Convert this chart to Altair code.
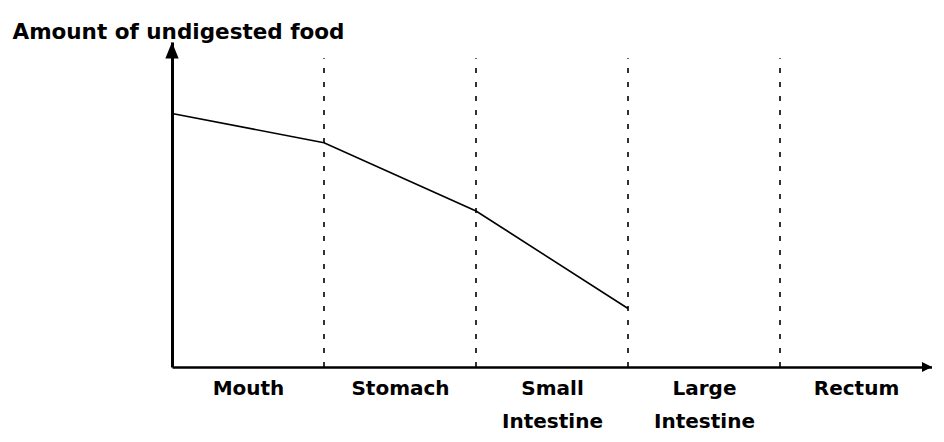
import json
import altair as alt
import pandas as pd

# ---- data ----
categories = ["Mouth", "Stomach", "Small Intestine", "Large Intestine", "Rectum"]
curve_x = [0, 1, 2, 3]            # stage boundaries where the curve is measured
curve_y = [78, 69, 48, 18]        # amount of undigested food (arbitrary units)
divider_x = [1, 2, 3, 4]          # dashed boundaries between organs
label_x = [0.5, 1.5, 2.5, 3.5, 4.5]
y_title = "Amount of undigested food"

X_MAX = 5.0
Y_MAX = 100
DIVIDER_TOP = 95

curve = pd.DataFrame({"x": curve_x, "y": curve_y})
dividers = pd.DataFrame({"x": divider_x, "y": [0] * len(divider_x), "y2": [DIVIDER_TOP] * len(divider_x)})
base_df = pd.DataFrame({"x": [0], "y": [0]})

label_arr = json.dumps([c.split(" ") for c in categories])

xscale = alt.Scale(domain=[0, X_MAX], nice=False, zero=False)
yscale = alt.Scale(domain=[0, Y_MAX], nice=False)

FONT = "DejaVu Sans"

x_axis = alt.Axis(
    values=label_x,
    labelExpr=f"{label_arr}[floor(datum.value)]",
    title=None,
    ticks=False,
    grid=False,
    domainColor="black",
    domainWidth=2.5,
    labelFont=FONT,
    labelFontSize=20,
    labelFontWeight="bold",
    labelColor="black",
    labelLineHeight=33,
    labelBaseline="top",
    labelPadding=11,
    labelOverlap=False,
    labelBound=False,
    labelFlush=False,
)

y_axis = alt.Axis(
    title=y_title,
    titleAngle=0,
    titleAlign="left",
    titleBaseline="middle",
    titleX=-160,
    titleY=-10,
    titleFont=FONT,
    titleFontSize=21.5,
    titleFontWeight="bold",
    titleColor="black",
    labels=False,
    ticks=False,
    grid=False,
    domainColor="black",
    domainWidth=3,
)

axes_layer = alt.Chart(base_df).mark_point(opacity=0).encode(
    x=alt.X("x:Q", scale=xscale, axis=x_axis),
    y=alt.Y("y:Q", scale=yscale, axis=y_axis),
)

div_layer = alt.Chart(dividers).mark_rule(
    color="black", strokeWidth=1.6, strokeDash=[5, 9]
).encode(
    x=alt.X("x:Q", scale=xscale),
    y=alt.Y("y:Q", scale=yscale),
    y2="y2:Q",
)

line_layer = alt.Chart(curve).mark_line(color="black", strokeWidth=1.6).encode(
    x=alt.X("x:Q", scale=xscale),
    y=alt.Y("y:Q", scale=yscale),
)

up_arrow = alt.Chart(pd.DataFrame({"x": [0], "y": [Y_MAX]})).mark_point(
    shape="M0,0 L-0.4,1 L0.4,1 Z", filled=True, color="black", size=1100, opacity=1
).encode(x=alt.X("x:Q", scale=xscale), y=alt.Y("y:Q", scale=yscale))

right_arrow = alt.Chart(pd.DataFrame({"x": [X_MAX], "y": [0]})).mark_point(
    shape="M0,0 L-1,-0.5 L-1,0.5 Z", filled=True, color="black", size=400, opacity=1
).encode(x=alt.X("x:Q", scale=xscale), y=alt.Y("y:Q", scale=yscale))

chart = (
    alt.layer(axes_layer, div_layer, line_layer, up_arrow, right_arrow)
    .properties(
        width=760,
        height=325,
        autosize=alt.AutoSizeParams(type="none"),
        padding={"left": 164, "top": 34, "right": 0, "bottom": 67},
        background="white",
    )
    .configure_view(stroke=None)
)

chart.save("out.html", embed_options={"renderer": "svg", "actions": False})
